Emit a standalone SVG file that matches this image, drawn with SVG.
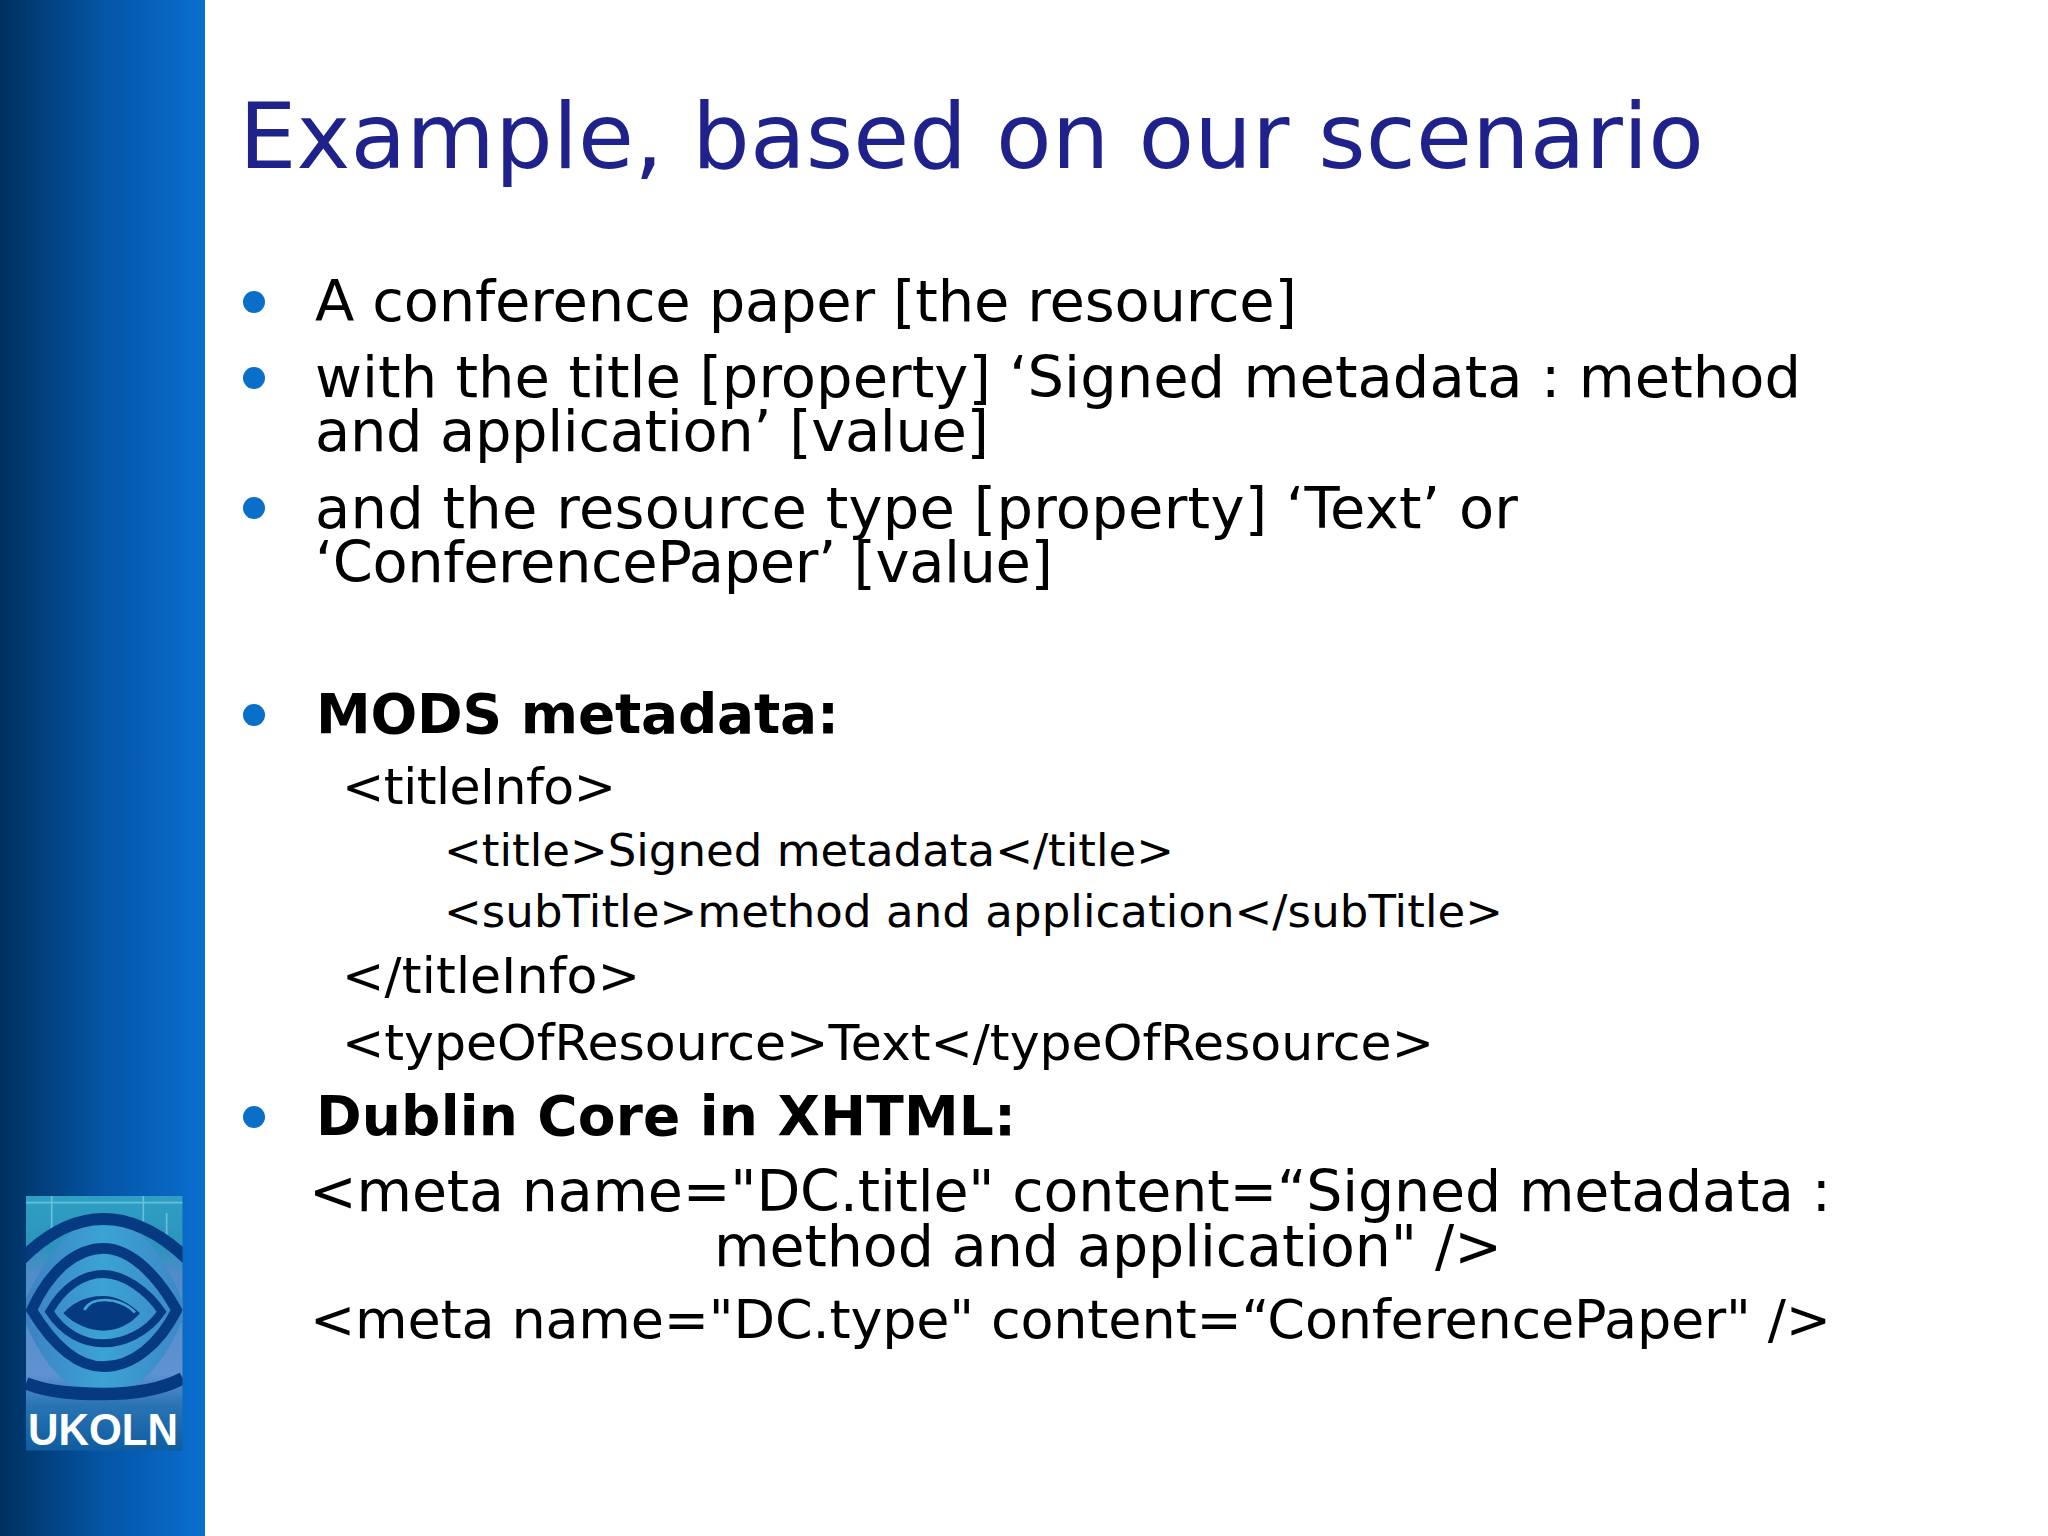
<svg xmlns="http://www.w3.org/2000/svg" width="2048" height="1536" viewBox="0 0 2048 1536">
<defs>
<linearGradient id="g" x1="0" x2="1" y1="0" y2="0"><stop offset="0" stop-color="#00305f"/><stop offset="0.5" stop-color="#0455a5"/><stop offset="1" stop-color="#0a6fd0"/></linearGradient>
<linearGradient id="lb" x1="0" x2="0" y1="0" y2="1"><stop offset="0" stop-color="#2f9fc4"/><stop offset="0.2" stop-color="#2c93bd"/><stop offset="0.3" stop-color="#4f8cc8"/><stop offset="0.7" stop-color="#5f92d0"/><stop offset="0.82" stop-color="#2a74b4"/><stop offset="1" stop-color="#0f5c9f"/></linearGradient>
<linearGradient id="ey" x1="0" x2="1" y1="0" y2="0"><stop offset="0" stop-color="#3d7fc2"/><stop offset="0.5" stop-color="#3ba3d3"/><stop offset="1" stop-color="#3d86c6"/></linearGradient>
<clipPath id="lc"><rect x="78" y="78" width="470" height="764"/></clipPath>
</defs>
<style>
text{font-family:"DejaVu Sans","Liberation Sans",sans-serif;fill:#000}
.b{font-size:57.5px}.h{font-size:55px;font-weight:bold}.c{font-size:50.5px}.d{font-size:45px}.m{font-size:57px}
.dot{fill:#0a6fc8}
.rg{fill:none;stroke:#063a80}
</style>
<rect width="2048" height="1536" fill="#fff"/>
<rect width="205" height="1536" fill="url(#g)"/>
<g id="logo">
<g transform="translate(0,1170) scale(0.33333)">
<g clip-path="url(#lc)">
<rect x="78" y="78" width="470" height="764" fill="url(#lb)"/>
<path d="M78 98H548M155 78V190M430 78V160M500 130V220" fill="none" stroke="#7fd0e4" stroke-width="5" opacity=".7"/>
<path d="M60 420C150 230 230 147 310 147C390 147 470 200 560 420C480 620 400 672 310 672C220 672 140 620 60 420Z" fill="url(#ey)"/>
<path class="rg" stroke-width="36" d="M60 272C150 180 230 147 310 147C390 147 470 180 560 265"/>
<path class="rg" stroke-width="38" d="M78 640C150 668 230 672 310 672C400 672 480 660 548 625"/>
<path class="rg" stroke-width="32" d="M95 420C150 300 230 235 310 235C400 235 480 330 530 420C480 520 400 590 310 590C220 590 150 510 95 420Z"/>
<path class="rg" stroke-width="24" d="M148 425C190 350 250 312 310 312C370 312 440 360 485 425C440 490 370 520 310 520C250 520 190 490 148 425Z"/>
<path d="M190 430C230 385 280 378 310 378C350 378 390 400 420 430C390 465 350 482 310 482C270 482 225 465 190 430Z" fill="#063a80"/>
<path d="M253 420C265 395 290 390 315 390C350 390 385 405 405 428" fill="none" stroke="#3fa5d2" stroke-width="8"/>
</g>
</g>
<text x="28" y="1445" textLength="150" lengthAdjust="spacingAndGlyphs" style="font-family:'Liberation Sans',sans-serif;font-size:44px;font-weight:bold;fill:#fff">UKOLN</text>
</g>
<text x="239" y="168" textLength="1465" style="font-size:91px;fill:#20228c">Example, based on our scenario</text>
<circle class="dot" cx="254" cy="302" r="11"/><circle class="dot" cx="254" cy="378" r="11"/><circle class="dot" cx="254" cy="508" r="11"/><circle class="dot" cx="254" cy="715" r="11"/><circle class="dot" cx="254" cy="1117" r="11"/>
<text class="b" x="315" y="321" textLength="982">A conference paper [the resource]</text>
<text class="b" x="315" y="397" textLength="1486">with the title [property] ‘Signed metadata : method</text>
<text class="b" x="315" y="451" textLength="674">and application’ [value]</text>
<text class="b" x="315" y="528" textLength="1203">and the resource type [property] ‘Text’ or</text>
<text class="b" x="315" y="582" textLength="738">‘ConferencePaper’ [value]</text>
<text class="h" x="316" y="733" textLength="523">MODS metadata:</text>
<text class="c" x="342" y="804" textLength="274">&lt;titleInfo&gt;</text>
<text class="d" x="444" y="866" textLength="730">&lt;title&gt;Signed metadata&lt;/title&gt;</text>
<text class="d" x="444" y="927" textLength="1059">&lt;subTitle&gt;method and application&lt;/subTitle&gt;</text>
<text class="c" x="342" y="993" textLength="298">&lt;/titleInfo&gt;</text>
<text class="c" x="342" y="1060" textLength="1092">&lt;typeOfResource&gt;Text&lt;/typeOfResource&gt;</text>
<text class="h" x="316" y="1135" textLength="700">Dublin Core in XHTML:</text>
<text class="m" x="309" y="1211" textLength="1522">&lt;meta name="DC.title" content=“Signed metadata :</text>
<text class="m" x="714" y="1266" textLength="788">method and application" /&gt;</text>
<text class="m" x="310" y="1338" textLength="1521" style="font-size:54px">&lt;meta name="DC.type" content=“ConferencePaper" /&gt;</text>
</svg>
